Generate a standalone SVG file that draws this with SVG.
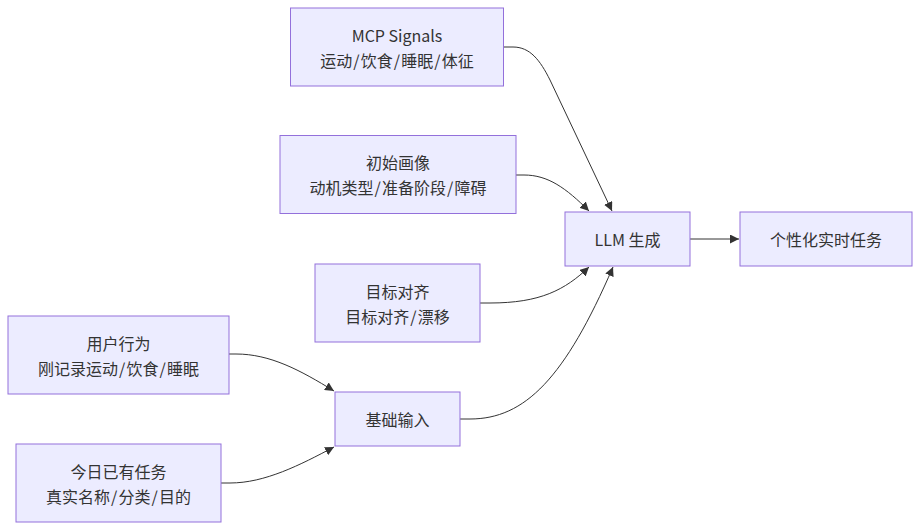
<svg xmlns="http://www.w3.org/2000/svg" width="919" height="530" viewBox="0 0 919 530">
<style>
.node rect{fill:#ECECFF;stroke:#9370DB;stroke-width:1}
.node text{font-family:"Noto Sans CJK SC","Noto Sans",sans-serif;font-size:16px;fill:#333;text-anchor:middle;dominant-baseline:central}
.edges path{fill:none;stroke:#333;stroke-width:1}
</style>
<defs>
<marker id="arrow" viewBox="0 0 10 10" refX="10" refY="5" markerUnits="userSpaceOnUse" markerWidth="9" markerHeight="9" orient="auto">
<path d="M0,0 L10,5 L0,10 z" fill="#333"/>
</marker>
</defs>
<rect width="919" height="530" fill="#fff"/>
<g class="edges">
<path d="M504,47 L513,47 C530,47 540,60 550,80 L612,211" marker-end="url(#arrow)"/>
<path d="M516,175 L524,175 C548,175 566,188 589,211" marker-end="url(#arrow)"/>
<path d="M480,303 L490,303 C540,303 565,290 589,267" marker-end="url(#arrow)"/>
<path d="M460,419 L470,419 C525,419 565,378 613,267" marker-end="url(#arrow)"/>
<path d="M229,354 L236,354 C270,354 300,370 334,391" marker-end="url(#arrow)"/>
<path d="M221,483 L230,483 C265,483 300,465 334,447" marker-end="url(#arrow)"/>
<path d="M690,239 L739,239" marker-end="url(#arrow)"/>
</g>
<g id="mcp" class="node">
<rect x="290.5" y="8" width="213" height="78"/>
<text x="397" y="34.5">MCP Signals</text>
<text x="397" y="59.5">运动<tspan dx="1.1">/</tspan><tspan dx="1.1">饮食</tspan><tspan dx="1.1">/</tspan><tspan dx="1.1">睡眠</tspan><tspan dx="1.1">/</tspan><tspan dx="1.1">体征</tspan></text>
</g>
<g id="profile" class="node">
<rect x="280" y="135.5" width="236" height="78"/>
<text x="398" y="162">初始画像</text>
<text x="398" y="187">动机类型<tspan dx="1.1">/</tspan><tspan dx="1.1">准备阶段</tspan><tspan dx="1.1">/</tspan><tspan dx="1.1">障碍</tspan></text>
</g>
<g id="goal" class="node">
<rect x="315" y="264" width="165" height="78"/>
<text x="397.5" y="290.5">目标对齐</text>
<text x="397.5" y="315.5">目标对齐<tspan dx="1.1">/</tspan><tspan dx="1.1">漂移</tspan></text>
</g>
<g id="behavior" class="node">
<rect x="8" y="316" width="221" height="78"/>
<text x="118.5" y="342.5">用户行为</text>
<text x="118.5" y="367.5">刚记录运动<tspan dx="1.1">/</tspan><tspan dx="1.1">饮食</tspan><tspan dx="1.1">/</tspan><tspan dx="1.1">睡眠</tspan></text>
</g>
<g id="base" class="node">
<rect x="335" y="392" width="125" height="54"/>
<text x="397.5" y="419">基础输入</text>
</g>
<g id="today" class="node">
<rect x="16" y="444" width="205" height="78"/>
<text x="118.5" y="470.5">今日已有任务</text>
<text x="118.5" y="495.5">真实名称<tspan dx="1.1">/</tspan><tspan dx="1.1">分类</tspan><tspan dx="1.1">/</tspan><tspan dx="1.1">目的</tspan></text>
</g>
<g id="llm" class="node">
<rect x="565" y="212" width="125" height="54"/>
<text x="627.5" y="239">LLM 生成</text>
</g>
<g id="task" class="node">
<rect x="740" y="212" width="172" height="54"/>
<text x="826" y="239">个性化实时任务</text>
</g>
</svg>
